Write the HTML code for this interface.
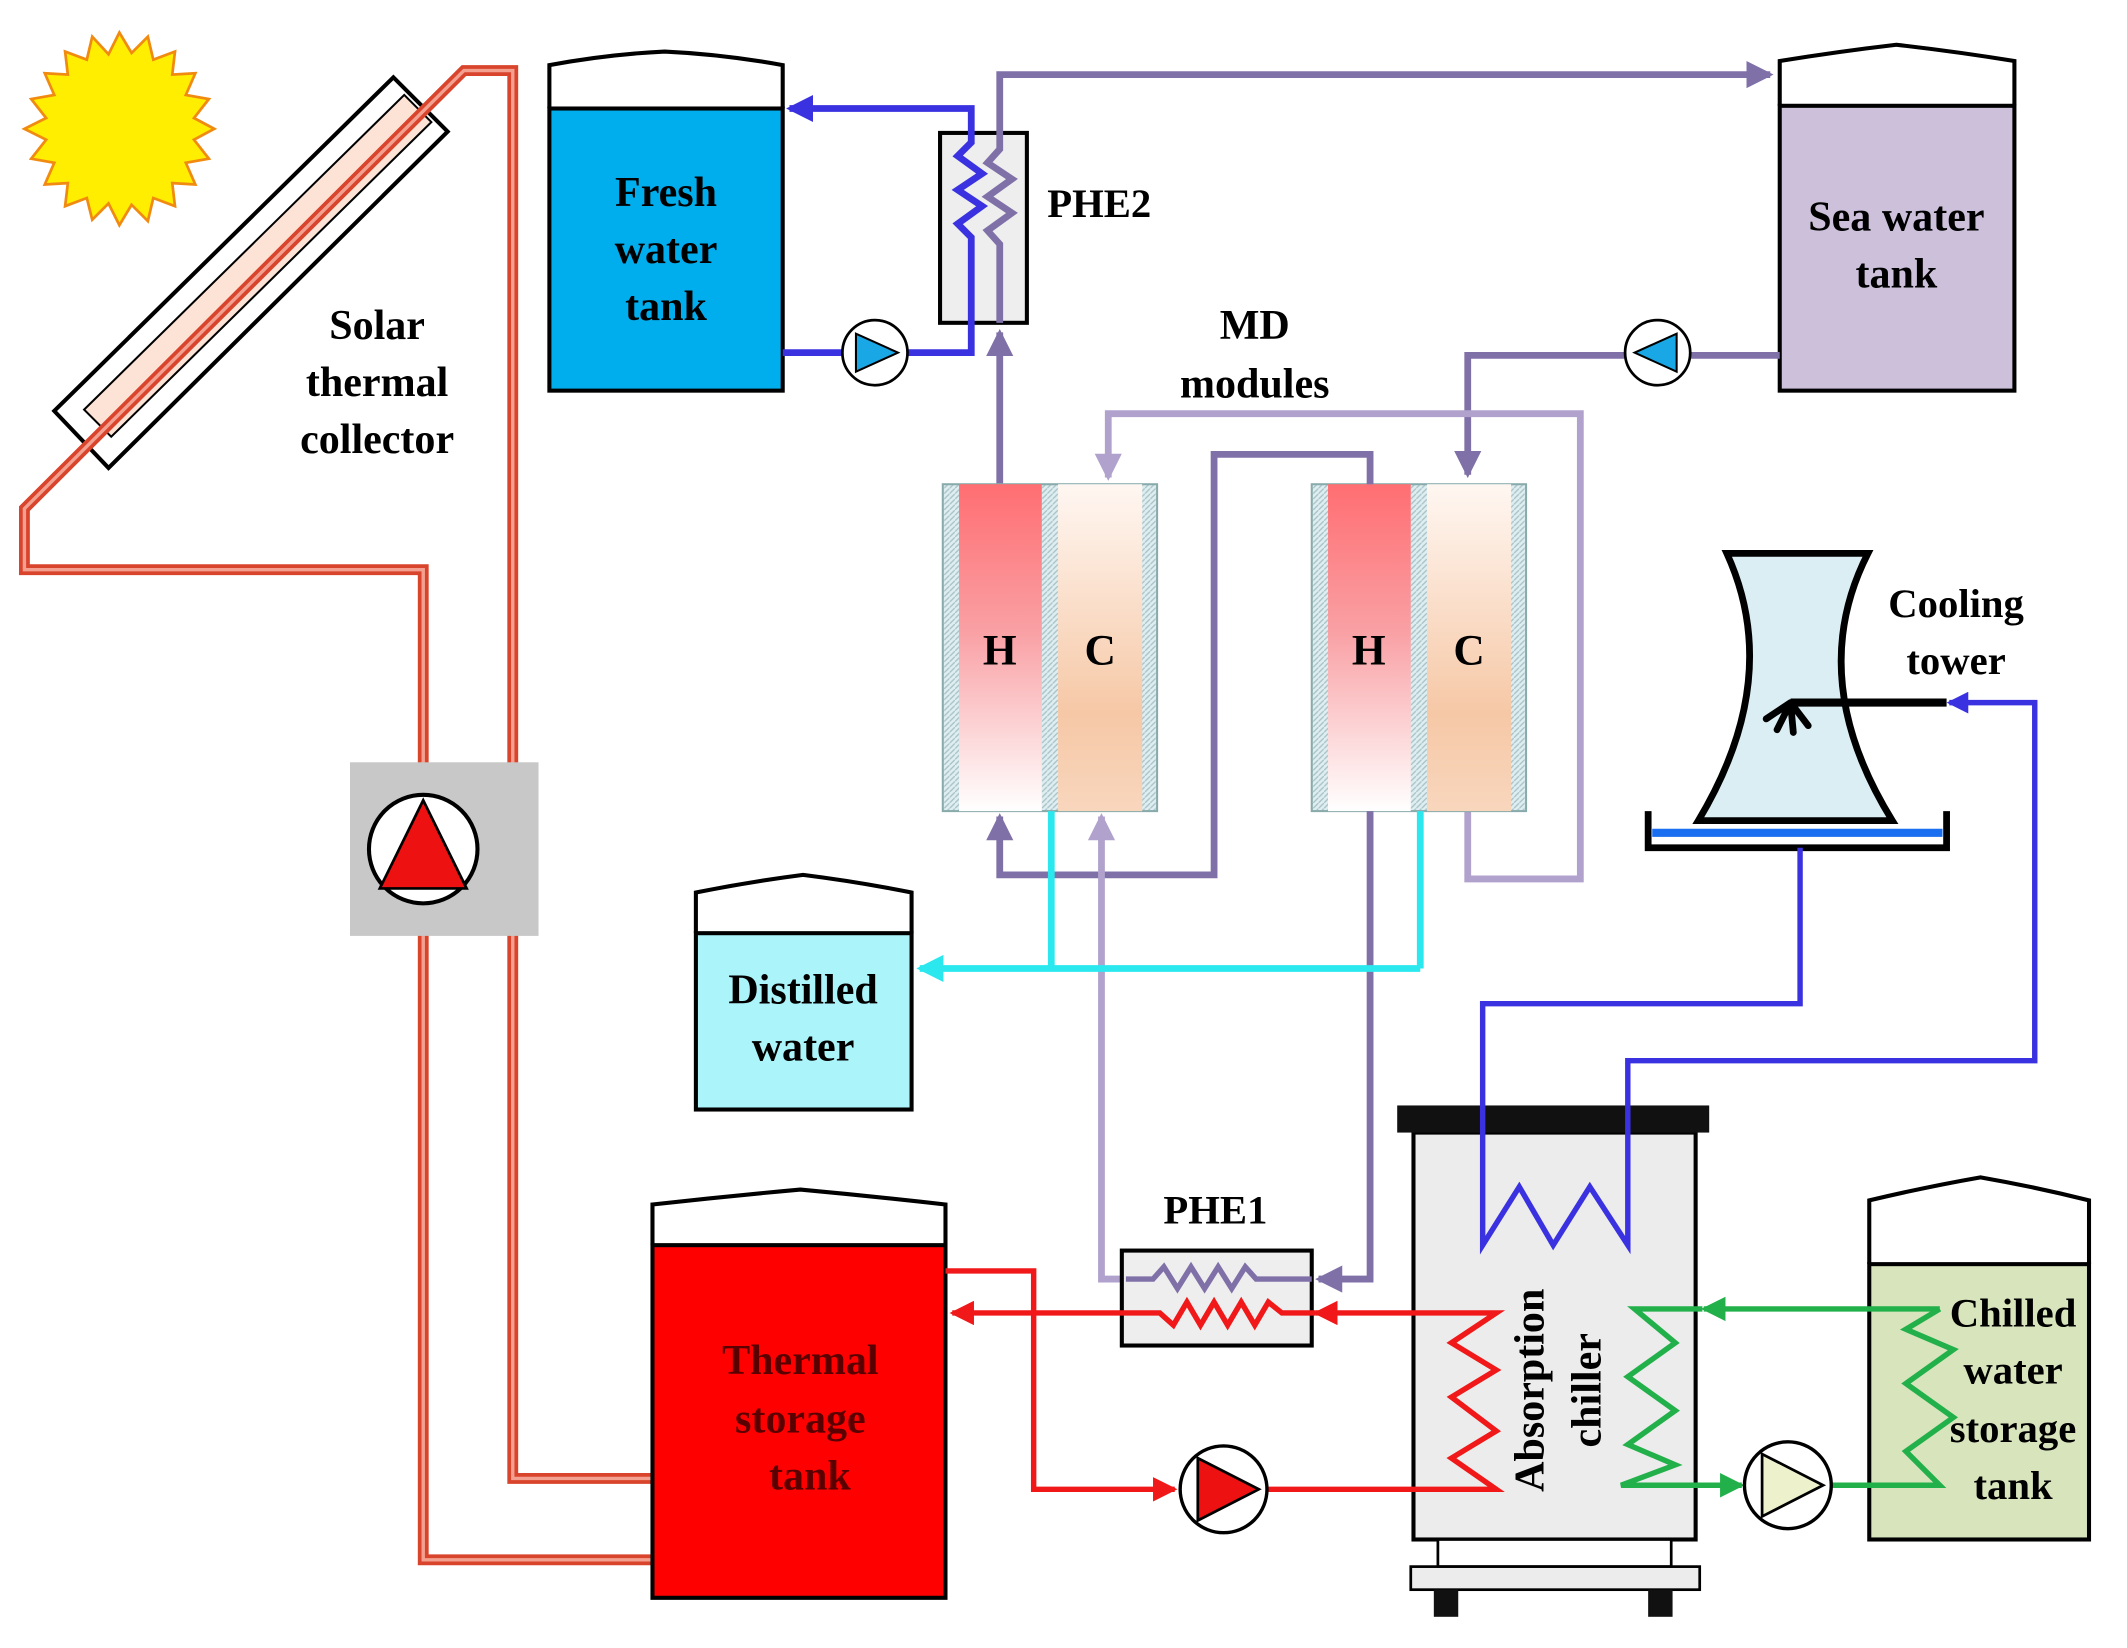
<!DOCTYPE html>
<html><head><meta charset="utf-8"><style>
html,body{margin:0;padding:0;background:#fff;}
svg{display:block;}
text{font-family:"Liberation Serif",serif;font-weight:bold;}
</style></head><body>
<svg width="2127" height="1648" viewBox="0 0 1568 1215" preserveAspectRatio="none" xmlns="http://www.w3.org/2000/svg">
<defs>
<linearGradient id="hg" x1="0" y1="0" x2="0" y2="1"><stop offset="0" stop-color="#ff6e72"/><stop offset="0.45" stop-color="#f9a0a4"/><stop offset="1" stop-color="#fff"/></linearGradient>
<linearGradient id="cg" x1="0" y1="0" x2="0" y2="1"><stop offset="0" stop-color="#fff7f2"/><stop offset="0.7" stop-color="#f6c8a6"/><stop offset="1" stop-color="#f8d6bd"/></linearGradient>
<pattern id="hatch" width="4" height="4" patternUnits="userSpaceOnUse"><rect width="4" height="4" fill="#dfeef0"/><path d="M0 4L4 0" stroke="#a9c3c8" stroke-width="1"/></pattern>
<marker id="aB" markerWidth="4" markerHeight="4" refX="3.5" refY="2" orient="auto" markerUnits="strokeWidth"><path d="M0,0L4,2L0,4z" fill="#3a32e0"/></marker>
<marker id="aP" markerWidth="4" markerHeight="4" refX="3.5" refY="2" orient="auto" markerUnits="strokeWidth"><path d="M0,0L4,2L0,4z" fill="#8070a8"/></marker>
<marker id="aL" markerWidth="4" markerHeight="4" refX="3.5" refY="2" orient="auto" markerUnits="strokeWidth"><path d="M0,0L4,2L0,4z" fill="#b0a2cc"/></marker>
<marker id="aC" markerWidth="4" markerHeight="4" refX="3.5" refY="2" orient="auto" markerUnits="strokeWidth"><path d="M0,0L4,2L0,4z" fill="#2ae8ee"/></marker>
<marker id="aR" markerWidth="4.5" markerHeight="4.5" refX="4" refY="2.25" orient="auto" markerUnits="strokeWidth"><path d="M0,0L4.5,2.25L0,4.5z" fill="#f01818"/></marker>
<marker id="aG" markerWidth="4.5" markerHeight="4.5" refX="4" refY="2.25" orient="auto" markerUnits="strokeWidth"><path d="M0,0L4.5,2.25L0,4.5z" fill="#22b04a"/></marker>
</defs>

<!-- sun -->
<g transform="translate(8,0)">
<polygon fill="#ffee00" stroke="#f08a10" stroke-width="2" points="
150,95 135,103 146,117 129,120 136,136 119,135 121,152 105,146 101,163 89,151 80,166 72,150 60,162 56,146 40,152 42,135 25,136 32,120 15,117 26,103 10,95 26,87 15,73 32,70 25,54 42,55 40,38 56,44 60,27 72,40 80,24 89,39 101,27 105,44 121,38 119,55 136,54 129,70 146,73 135,87"/>
</g>

<!-- solar collector -->
<polygon points="40,303 290,57 330,97 80,345" fill="#fff" stroke="#000" stroke-width="3"/>
<polygon points="62,302 298,70 318,90 82,322" fill="#fde3d6" stroke="#000" stroke-width="1.5"/>

<g fill="none" stroke-linejoin="miter">
<path d="M480,1090 L378,1090 L378,52 L342,52 L18,375 L18,420 L312,420 L312,1150 L480,1150" stroke="#d9442c" stroke-width="8"/>
<path d="M480,1090 L378,1090 L378,52 L342,52 L18,375 L18,420 L312,420 L312,1150 L480,1150" stroke="#f4a090" stroke-width="2.5"/>
</g>

<rect x="258" y="562" width="139" height="128" fill="#c8c8c8"/>
<circle cx="312" cy="626" r="40" fill="#fff" stroke="#000" stroke-width="3"/>
<polygon points="312,590 280,655 344,655" fill="#ee1111" stroke="#000" stroke-width="2"/>

<text x="278" y="250" font-size="31" text-anchor="middle">Solar</text>
<text x="278" y="292" font-size="31" text-anchor="middle">thermal</text>
<text x="278" y="334" font-size="31" text-anchor="middle">collector</text>

<path d="M405,80 L405,48 Q448,40 490,38 Q533,40 577,48 L577,80" fill="#fff" stroke="#000" stroke-width="3"/>
<rect x="405" y="80" width="172" height="208" fill="#00aeee" stroke="#000" stroke-width="3"/>
<text x="491" y="152" font-size="31" text-anchor="middle">Fresh</text>
<text x="491" y="194" font-size="31" text-anchor="middle">water</text>
<text x="491" y="236" font-size="31" text-anchor="middle">tank</text>

<path d="M1312,78 L1312,45 Q1355,38 1398,33 Q1442,38 1485,45 L1485,78" fill="#fff" stroke="#000" stroke-width="3"/>
<rect x="1312" y="78" width="173" height="210" fill="#ccc0da" stroke="#000" stroke-width="3"/>
<text x="1398" y="170" font-size="31" text-anchor="middle">Sea water</text>
<text x="1398" y="212" font-size="31" text-anchor="middle">tank</text>

<rect x="693" y="98" width="64" height="140" fill="#eeeeee" stroke="#000" stroke-width="3"/>
<path d="M577,260 L716,260 L716,175 L706,165 L724,152 L706,140 L724,128 L706,115 L716,105 L716,80 L582,80" fill="none" stroke="#3a32e0" stroke-width="5" marker-end="url(#aB)"/>
<circle cx="645" cy="260" r="24" fill="#fff" stroke="#000" stroke-width="2"/>
<polygon points="631,246 631,274 662,260" fill="#1aa7e6" stroke="#000" stroke-width="1.5"/>
<path d="M737,357 L737,245" fill="none" stroke="#8070a8" stroke-width="5" marker-end="url(#aP)"/>
<path d="M737,238 L737,180 L728,170 L746,157 L728,145 L746,132 L728,120 L737,110 L737,55 L1305,55" fill="none" stroke="#8070a8" stroke-width="5" marker-end="url(#aP)"/>
<text x="772" y="160" font-size="30">PHE2</text>

<path d="M1312,262 L1082,262 L1082,350" fill="none" stroke="#8070a8" stroke-width="5" marker-end="url(#aP)"/>
<circle cx="1222" cy="260" r="24" fill="#fff" stroke="#000" stroke-width="2"/>
<polygon points="1236,246 1236,274 1205,260" fill="#1aa7e6" stroke="#000" stroke-width="1.5"/>

<text x="925" y="250" font-size="31" text-anchor="middle">MD</text>
<text x="925" y="293" font-size="31" text-anchor="middle">modules</text>

<path d="M1082,598 L1082,648 L1165,648 L1165,305 L817,305 L817,352" fill="none" stroke="#b0a2cc" stroke-width="5" marker-end="url(#aL)"/>

<rect x="695" y="357" width="158" height="241" fill="url(#hatch)" stroke="#8aa" stroke-width="1.5"/>
<rect x="707" y="357" width="61" height="241" fill="url(#hg)"/>
<rect x="780" y="357" width="62" height="241" fill="url(#cg)"/>
<text x="737" y="490" font-size="32" text-anchor="middle">H</text>
<text x="811" y="490" font-size="32" text-anchor="middle">C</text>
<rect x="967" y="357" width="158" height="241" fill="url(#hatch)" stroke="#8aa" stroke-width="1.5"/>
<rect x="979" y="357" width="61" height="241" fill="url(#hg)"/>
<rect x="1052" y="357" width="62" height="241" fill="url(#cg)"/>
<text x="1009" y="490" font-size="32" text-anchor="middle">H</text>
<text x="1083" y="490" font-size="32" text-anchor="middle">C</text>

<path d="M1010,357 L1010,335 L895,335 L895,645 L737,645 L737,602" fill="none" stroke="#8070a8" stroke-width="5" marker-end="url(#aP)"/>
<path d="M1010,598 L1010,943 L972,943" fill="none" stroke="#8070a8" stroke-width="5" marker-end="url(#aP)"/>
<path d="M830,943 L812,943 L812,602" fill="none" stroke="#b0a2cc" stroke-width="5" marker-end="url(#aL)"/>

<path d="M775,598 L775,714 M1047,598 L1047,714" fill="none" stroke="#2ae8ee" stroke-width="5"/>
<path d="M1047,714 L678,714" fill="none" stroke="#2ae8ee" stroke-width="5" marker-end="url(#aC)"/>

<path d="M513,688 L513,658 Q553,650 592,645 Q632,650 672,658 L672,688" fill="#fff" stroke="#000" stroke-width="3"/>
<rect x="513" y="688" width="159" height="130" fill="#abf4fa" stroke="#000" stroke-width="3"/>
<text x="592" y="740" font-size="31" text-anchor="middle">Distilled</text>
<text x="592" y="782" font-size="31" text-anchor="middle">water</text>

<path d="M1273,408 L1377,408 Q1330,500 1395,605 L1252,605 Q1315,500 1273,408 Z" fill="#dbeef4" stroke="#000" stroke-width="5"/>
<path d="M1215,598 L1215,625 L1435,625 L1435,598" fill="none" stroke="#000" stroke-width="5"/>
<line x1="1218" y1="614" x2="1432" y2="614" stroke="#1a6ef0" stroke-width="6"/>
<line x1="1320" y1="518" x2="1435" y2="518" stroke="#000" stroke-width="6"/>
<path d="M1320,518 L1302,530 M1320,518 L1310,538 M1320,518 L1322,540 M1320,518 L1333,535" stroke="#000" stroke-width="5" stroke-linecap="round"/>
<text x="1442" y="455" font-size="30" text-anchor="middle">Cooling</text>
<text x="1442" y="497" font-size="30" text-anchor="middle">tower</text>

<rect x="1042" y="835" width="208" height="300" fill="#ececec" stroke="#000" stroke-width="3"/>
<rect x="1030" y="815" width="230" height="20" fill="#111"/>
<rect x="1060" y="1135" width="172" height="20" fill="#fff" stroke="#000" stroke-width="2"/>
<rect x="1040" y="1155" width="213" height="17" fill="#ececec" stroke="#000" stroke-width="2"/>
<rect x="1057" y="1172" width="18" height="20" fill="#111"/>
<rect x="1215" y="1172" width="18" height="20" fill="#111"/>
<text transform="translate(1138,1025) rotate(-90)" font-size="31" text-anchor="middle">Absorption</text>
<text transform="translate(1180,1025) rotate(-90)" font-size="31" text-anchor="middle">chiller</text>

<path d="M1327,625 L1327,740 L1093,740 L1093,918 L1120,875 L1145,918 L1172,875 L1200,918 L1200,782 L1500,782 L1500,518 L1437,518" fill="none" stroke="#3a32e0" stroke-width="4" marker-end="url(#aB)"/>

<path d="M481,918 L481,888 Q535,882 590,877 Q644,882 697,888 L697,918" fill="#fff" stroke="#000" stroke-width="3"/>
<rect x="481" y="918" width="216" height="260" fill="#ff0000" stroke="#000" stroke-width="3"/>
<text x="590" y="1013" font-size="31" text-anchor="middle" fill="#5a0000">Thermal</text>
<text x="590" y="1056" font-size="31" text-anchor="middle" fill="#5a0000">storage</text>
<text x="597" y="1098" font-size="31" text-anchor="middle" fill="#5a0000">tank</text>

<rect x="827" y="922" width="140" height="70" fill="#eeeeee" stroke="#000" stroke-width="3"/>
<path d="M830,943 L850,943 L858,934 L868,950 L878,934 L888,950 L898,934 L908,950 L918,934 L926,943 L967,943" fill="none" stroke="#8070a8" stroke-width="4"/>
<text x="896" y="902" font-size="30" text-anchor="middle">PHE1</text>

<path d="M697,937 L762,937 L762,1098 L866,1098" fill="none" stroke="#f01818" stroke-width="4" marker-end="url(#aR)"/>
<path d="M935,1098 L1103,1098 L1070,1075 L1103,1055 L1070,1030 L1103,1010 L1070,990 L1103,968 L970,968" fill="none" stroke="#f01818" stroke-width="4" marker-end="url(#aR)"/>
<path d="M970,968 L945,968 L935,960 L925,977 L915,960 L905,977 L895,960 L885,977 L875,960 L865,977 L855,968 L702,968" fill="none" stroke="#f01818" stroke-width="4" marker-end="url(#aR)"/>
<circle cx="902" cy="1098" r="32" fill="#fff" stroke="#000" stroke-width="2.5"/>
<polygon points="883,1075 883,1121 928,1098" fill="#ee1111" stroke="#000" stroke-width="2"/>

<path d="M1378,932 L1378,885 Q1420,875 1460,868 Q1500,875 1540,885 L1540,932" fill="#fff" stroke="#000" stroke-width="3"/>
<rect x="1378" y="932" width="162" height="203" fill="#d8e4bc" stroke="#000" stroke-width="3"/>

<path d="M1430,965 L1256,965" fill="none" stroke="#22b04a" stroke-width="4" marker-end="url(#aG)"/>
<path d="M1255,965 L1205,965 L1235,990 L1200,1015 L1235,1040 L1200,1065 L1235,1080 L1195,1095 L1284,1095" fill="none" stroke="#22b04a" stroke-width="4" marker-end="url(#aG)"/>
<path d="M1350,1095 L1430,1095 L1405,1070 L1440,1045 L1405,1020 L1440,995 L1405,980 L1430,965" fill="none" stroke="#22b04a" stroke-width="4"/>
<circle cx="1318" cy="1095" r="32" fill="#fff" stroke="#000" stroke-width="2.5"/>
<polygon points="1299,1072 1299,1118 1344,1095" fill="#eef2cc" stroke="#000" stroke-width="2"/>

<text x="1484" y="978" font-size="30" text-anchor="middle">Chilled</text>
<text x="1484" y="1020" font-size="30" text-anchor="middle">water</text>
<text x="1484" y="1063" font-size="30" text-anchor="middle">storage</text>
<text x="1484" y="1105" font-size="30" text-anchor="middle">tank</text>
</svg>
</body></html>
